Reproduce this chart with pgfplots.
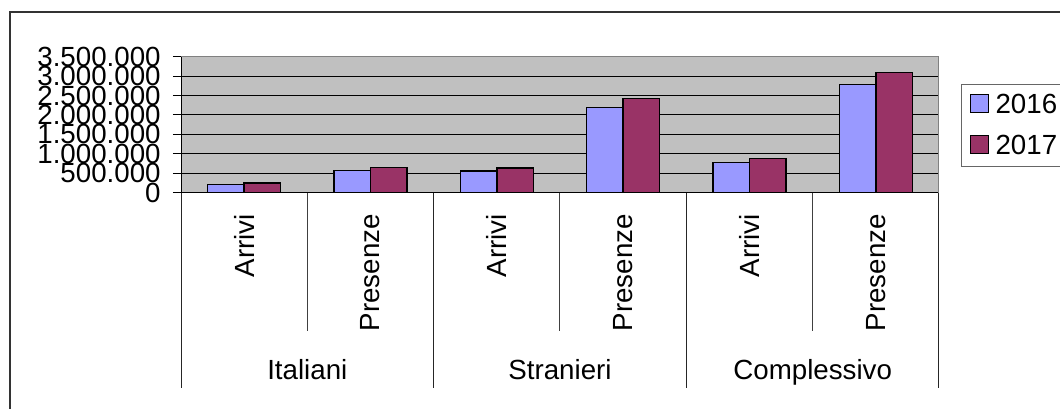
\documentclass[border=0pt]{standalone}
\usepackage{fontspec}
\setmainfont{Liberation Sans}
\usepackage{pgfplots}
\pgfplotsset{compat=1.18}
\definecolor{c16}{HTML}{9999FF}
\definecolor{c17}{HTML}{993366}
\definecolor{plotbg}{HTML}{C0C0C0}
\begin{document}
\begin{tikzpicture}[font=\fontsize{13.85pt}{16pt}\selectfont]
\path[use as bounding box] (0,0) rectangle (530pt,-204pt);
\clip (0,0) rectangle (530pt,-204pt);
\draw[black!80, line width=0.75pt] (5pt,-6pt) rectangle (560pt,-230pt);
\begin{axis}[
  at={(90.5pt,-96.35pt)}, anchor=south west,
  scale only axis, width=379pt, height=68pt,
  xmin=-0.5, xmax=5.5, ymin=0, ymax=3500000,
  ybar=0pt, bar width=18.25pt,
  axis background/.style={fill=plotbg},
  axis line style={draw=none},
  ymajorgrids, grid style={black, line width=0.5pt},
  ytick={0,500000,1000000,1500000,2000000,2500000,3000000,3500000},
  yticklabels={0,500.000,1.000.000,1.500.000,2.000.000,2.500.000,3.000.000,3.500.000},
  ytick pos=left, tick align=outside, major tick length=4pt,
  tick style={black, line width=0.5pt},
  xtick={0,1,2,3,4,5},
  xticklabels={Arrivi,Presenze,Arrivi,Presenze,Arrivi,Presenze},
  xtick style={draw=none},
  xticklabel style={yshift=-6.5pt, rotate=90, anchor=east, inner sep=0pt},
  yticklabel style={anchor=east, inner sep=0pt, xshift=-6pt},
  scaled y ticks=false,
  clip=false,
  legend style={at={(1.0286,0.7993)}, anchor=north west, draw=black!60,
    line width=0.5pt, inner xsep=4.3pt, inner ysep=4.6pt, row sep=9pt,
    column sep=3.2pt, nodes={inner sep=0pt}},
  legend image code/.code={\draw[#1] (0pt,-3.5pt) rectangle (9pt,5.5pt);},
]
\addplot[fill=c16, draw=black, line width=0.7pt] coordinates {
  (0,206000) (1,576000) (2,558000) (3,2187000) (4,782000) (5,2779000)};
\addplot[fill=c17, draw=black, line width=0.7pt] coordinates {
  (0,250000) (1,654000) (2,636000) (3,2429000) (4,885000) (5,3088000)};
\legend{2016,2017}
\draw[black, line width=0.5pt] (rel axis cs:0,1) -- (rel axis cs:0,0) -- (rel axis cs:1,0);
\draw[black!50, line width=0.5pt] (rel axis cs:0,1) -- (rel axis cs:1,1) -- (rel axis cs:1,0);
\draw[black!85, line width=0.5pt] (axis cs:-0.5,0) -- ([yshift=-97.6pt]axis cs:-0.5,0);
\draw[black!85, line width=0.5pt] (axis cs:1.5,0) -- ([yshift=-97.6pt]axis cs:1.5,0);
\draw[black!85, line width=0.5pt] (axis cs:3.5,0) -- ([yshift=-97.6pt]axis cs:3.5,0);
\draw[black!85, line width=0.5pt] (axis cs:5.5,0) -- ([yshift=-97.6pt]axis cs:5.5,0);
\draw[black!75, line width=0.5pt] (axis cs:0.5,0) -- ([yshift=-69.15pt]axis cs:0.5,0);
\draw[black!75, line width=0.5pt] (axis cs:2.5,0) -- ([yshift=-69.15pt]axis cs:2.5,0);
\draw[black!75, line width=0.5pt] (axis cs:4.5,0) -- ([yshift=-69.15pt]axis cs:4.5,0);
\node[anchor=base] at ([yshift=-93.2pt]axis cs:0.5,0) {Italiani};
\node[anchor=base] at ([yshift=-93.2pt]axis cs:2.5,0) {Stranieri};
\node[anchor=base] at ([yshift=-93.2pt]axis cs:4.5,0) {Complessivo};
\end{axis}
\end{tikzpicture}
\end{document}
